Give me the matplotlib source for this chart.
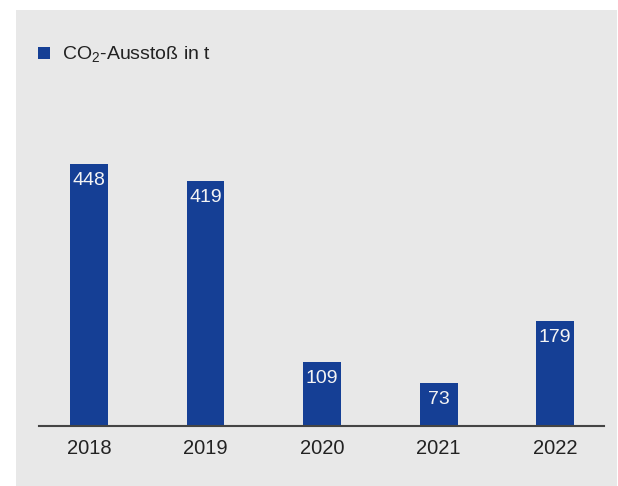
import matplotlib
matplotlib.use("Agg")
import matplotlib.pyplot as plt
from matplotlib.patches import Rectangle

plt.rcParams['font.family'] = ['Liberation Sans', 'DejaVu Sans']
plt.rcParams['mathtext.fontset'] = 'custom'
plt.rcParams['mathtext.rm'] = 'Liberation Sans'

years = ["2018", "2019", "2020", "2021", "2022"]
co2 = [448, 419, 109, 73, 179]

bar_color = "#153f95"
bg_color = "#e8e8e8"

W, H = 618, 486
fig = plt.figure(figsize=(W / 100, H / 100), dpi=100)
fig.patch.set_facecolor("white")

# grey panel behind the chart
fig.patches.append(Rectangle((16 / W, 0), (617 - 16) / W, (H - 10) / H,
                             transform=fig.transFigure, facecolor=bg_color,
                             edgecolor="none", zorder=-1))

ax = fig.add_axes([39 / W, (H - 425.7) / H, (604 - 39) / W, (425.7 - 10) / H])
ax.set_facecolor("none")

x = range(len(years))
bars = ax.bar(x, co2, width=0.326, color=bar_color, label=r"CO$_2$-Ausstoß in t")

for xi, v in zip(x, co2):
    ax.annotate(str(v), (xi, v), xytext=(0, -16.5), textcoords="offset pixels",
                ha="center", va="center", color="#f4f4f4", fontsize=14)

ax.set_xlim(-0.429, 4.42)
ax.set_ylim(0, 712)
ax.set_xticks(list(x))
ax.set_xticklabels(years, fontsize=14.5, color="#222222")
ax.tick_params(axis="x", length=0, pad=9.5)
ax.set_yticks([])
for s in ["left", "right", "top"]:
    ax.spines[s].set_visible(False)
ax.spines["bottom"].set_color("#444444")
ax.spines["bottom"].set_linewidth(1.5)

ax.legend(loc="center left", bbox_to_anchor=(38 / W, 1 - 55 / H),
          bbox_transform=fig.transFigure, frameon=False, borderpad=0,
          borderaxespad=0, handlelength=0.6, handleheight=0.6,
          handletextpad=0.65, fontsize=14, labelcolor="#222222")

fig.savefig("out.png", dpi=100)
